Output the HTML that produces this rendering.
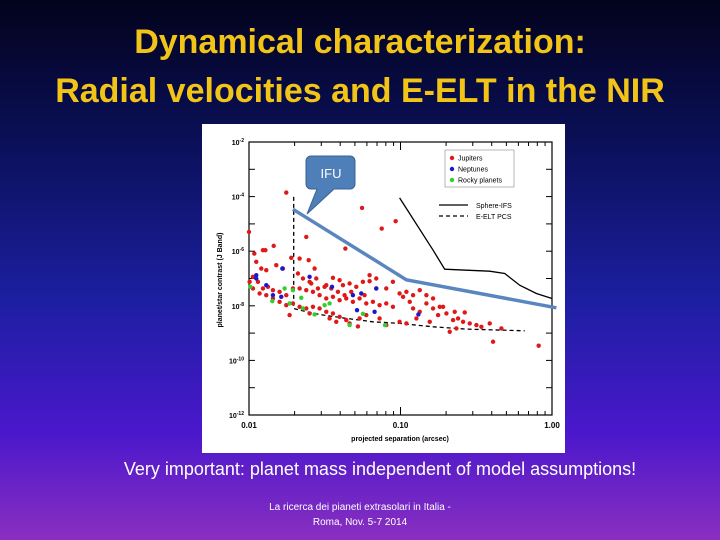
<!DOCTYPE html>
<html><head><meta charset="utf-8"><style>
html,body{margin:0;padding:0}
body{width:720px;height:540px;overflow:hidden;background:linear-gradient(180deg,#03031c 0%,#0a0f55 25%,#1b1fa0 55%,#4a17cc 80%,#8a2fc0 100%);font-family:"Liberation Sans",sans-serif;position:relative}
.t{position:absolute;left:0;width:720px;text-align:center;color:#f2c418;font-weight:bold;font-size:34px;font-family:"Liberation Sans",sans-serif}
</style></head><body>
<div class="t" style="top:23px">Dynamical characterization:</div>
<div class="t" style="top:72px">Radial velocities and E-ELT in the NIR</div>
<svg id="c" width="720" height="540" style="position:absolute;left:0;top:0"></svg>
<div style="position:absolute;left:0;width:760px;top:459px;text-align:center;color:#fff;font-size:18px">Very important: planet mass independent of model assumptions!</div>
<div style="position:absolute;left:0;width:720px;top:500px;text-align:center;color:#fff;font-size:10px;line-height:15px">La ricerca dei pianeti extrasolari in Italia -<br>Roma, Nov. 5-7 2014</div>
<script>
// data: [log10 separation(arcsec), log10 contrast]
const yTicks=[-2,-4,-6,-8,-10,-12];
const xTicks=[-2,-1,0];
const xTickLabels=["0.01","0.10","1.00"];
const jupZ=[[260,212],[148,330],[320,345],[197,385],[222,372],[275,408],[487,258],[546,320],[588,298],[437,380],[164,395],[190,385],[170,420],[185,440],[200,445],[230,430],[250,440],[300,410],[327,415],[345,440],[295,455],[310,470],[330,480],[350,470],[380,490],[400,468],[420,475],[430,490],[450,485],[470,495],[490,480],[510,478],[530,500],[160,465],[175,480],[190,500],[205,495],[220,505],[240,510],[260,520],[280,500],[300,500],[320,505],[340,510],[360,520],[380,530],[400,525],[420,535],[440,530],[460,540],[480,530],[500,545],[520,540],[540,550],[560,545],[580,555],[600,515],[610,525],[620,510],[630,540],[640,560],[660,570],[680,545],[700,560],[715,580],[730,555],[740,575],[760,595],[775,590],[790,600],[810,605],[830,610],[845,615],[870,605],[880,660],[905,620],[1017,672],[600,600],[620,605],[560,610],[540,590],[500,580],[480,590],[450,605],[440,595],[420,585],[400,575],[380,570],[360,560],[340,555],[320,560],[300,555],[280,545],[260,550],[240,540],[220,530],[200,520],[180,515],[160,500],[150,480],[270,580],[330,575],[390,590],[410,600],[475,614],[650,590],[690,600],[750,630],[770,620],[795,572],[765,570],[720,555],[700,530],[680,520],[660,505],[640,520],[580,480],[560,500],[530,470],[510,460],[495,520],[455,510],[435,520],[415,510],[395,500],[375,495],[355,500],[335,485]];
const nepZ=[[170,460],[248,440],[330,465],[200,490],[460,520],[485,515],[397,495],[530,500],[525,570],[656,578],[472,565],[245,525],[170,470],[220,520]];
const rockZ=[[152,495],[218,538],[270,545],[305,528],[345,578],[375,550],[390,545],[450,610],[490,576],[556,610],[310,560],[280,505],[255,500]];
const conv=p=>[+(-2+(p[0]-148)/454.5).toFixed(3),+(-2-(p[1]-60)/82).toFixed(3)];
const jupiters=jupZ.map(conv), neptunes=nepZ.map(conv), rocky=rockZ.map(conv);
const sphere=[[600,228],[700,385],[735,442],[800,445],[870,448],[915,455],[960,490],[1010,515],[1057,530]].map(conv);
const eelt=[[282,225],[282,560],[300,565],[360,578],[440,590],[520,600],[600,605],[700,615],[800,622],[975,627]].map(conv);
const ifu=[[280,262],[620,474],[1070,558]].map(conv);

const X=v=>249+(v+2)*151.5, Y=v=>142+(-2-v)*27.3;
const s=document.getElementById('c'),NS="http://www.w3.org/2000/svg";
function mk(t,a,p){const e=document.createElementNS(NS,t);for(const k in a)e.setAttribute(k,a[k]);(p||s).appendChild(e);return e;}
let e;
e=mk('rect',{x:202,y:124,width:363,height:329,fill:'#fff'});


e=mk('rect',{x:249,y:142,width:303,height:273,fill:'none',stroke:'#000','stroke-width':1.2});


yTicks.forEach(v=>{
 for(let d=0;d<2;d++){if(v-d<-12)continue;mk('line',{x1:249,x2:255,y1:Y(v-d),y2:Y(v-d),stroke:'#000'});mk('line',{x1:546,x2:552,y1:Y(v-d),y2:Y(v-d),stroke:'#000'});}
 e=mk('text',{x:244,y:Y(v)+3,'text-anchor':'end','font-size':7,'font-weight':'bold',fill:'#000'});
 e.textContent='10';const ts=mk('tspan',{dy:-3,'font-size':5},e);ts.textContent=String(v);
 
 
});
xTicks.forEach((v,i)=>{
 e=mk('text',{x:X(v),y:428,'text-anchor':'middle','font-size':8,'font-weight':'bold',fill:'#000'});e.textContent=xTickLabels[i];
 
 
 if(i<2)for(let k=1;k<10;k++){const xx=X(v+Math.log10(k));mk('line',{x1:xx,x2:xx,y1:415,y2:k==1?407:411,stroke:'#000'});mk('line',{x1:xx,x2:xx,y1:142,y2:k==1?150:146,stroke:'#000'});}
});
e=mk('text',{x:400,y:441,'text-anchor':'middle','font-size':7,'font-weight':'bold',fill:'#000'});e.textContent='projected separation (arcsec)';


e=mk('text',{x:222,y:280,'text-anchor':'middle','font-size':7,'font-weight':'bold',fill:'#000',transform:'rotate(-90 222 280)'});e.textContent='planet/star contrast (J Band)';


const pl=a=>a.map(p=>X(p[0]).toFixed(1)+','+Y(p[1]).toFixed(1)).join(' ');
e=mk('polyline',{points:pl(sphere),fill:'none',stroke:'#000','stroke-width':1.3});


e=mk('polyline',{points:pl(eelt),fill:'none',stroke:'#000','stroke-width':1.3,'stroke-dasharray':'4,3'});


[[jupiters,'#e01818','jupiter-point'],[neptunes,'#1818d0','neptune-point'],[rocky,'#30d030','rocky-point']].forEach(([arr,c,n])=>arr.forEach(p=>{
 e=mk('circle',{cx:X(p[0]),cy:Y(p[1]),r:2.2,fill:c});
 
 
}));
e=mk('polyline',{points:pl(ifu),fill:'none',stroke:'#5a86bf','stroke-width':3.5});


e=mk('rect',{x:445,y:150,width:69,height:37,fill:'#fff',stroke:'#888','stroke-width':.6});


[['Jupiters','#e01818',158],['Neptunes','#1818d0',169],['Rocky planets','#30d030',180]].forEach(([t,c,y])=>{
 mk('circle',{cx:452,cy:y,r:2.2,fill:c});
 e=mk('text',{x:458,y:y+2.5,'font-size':7,fill:'#000'});e.textContent=t;
 
 
});
mk('line',{x1:439,x2:468,y1:205,y2:205,stroke:'#000','stroke-width':1.3});
mk('line',{x1:439,x2:468,y1:216,y2:216,stroke:'#000','stroke-width':1.3,'stroke-dasharray':'4,3'});
e=mk('text',{x:476,y:208,'font-size':7,fill:'#000'});e.textContent='Sphere-IFS';


e=mk('text',{x:476,y:219,'font-size':7,fill:'#000'});e.textContent='E-ELT PCS';


e=mk('path',{d:'M311,156 h39 a5,5 0 0 1 5,5 v23 a5,5 0 0 1 -5,5 h-16 l-27,25 l10,-25 h-6 a5,5 0 0 1 -5,-5 v-23 a5,5 0 0 1 5,-5 z',fill:'#4f7fb8',stroke:'#3a6296','stroke-width':1});


e=mk('text',{x:331,y:178,'text-anchor':'middle','font-size':13,fill:'#fff'});e.textContent='IFU';


</script>
</body></html>
